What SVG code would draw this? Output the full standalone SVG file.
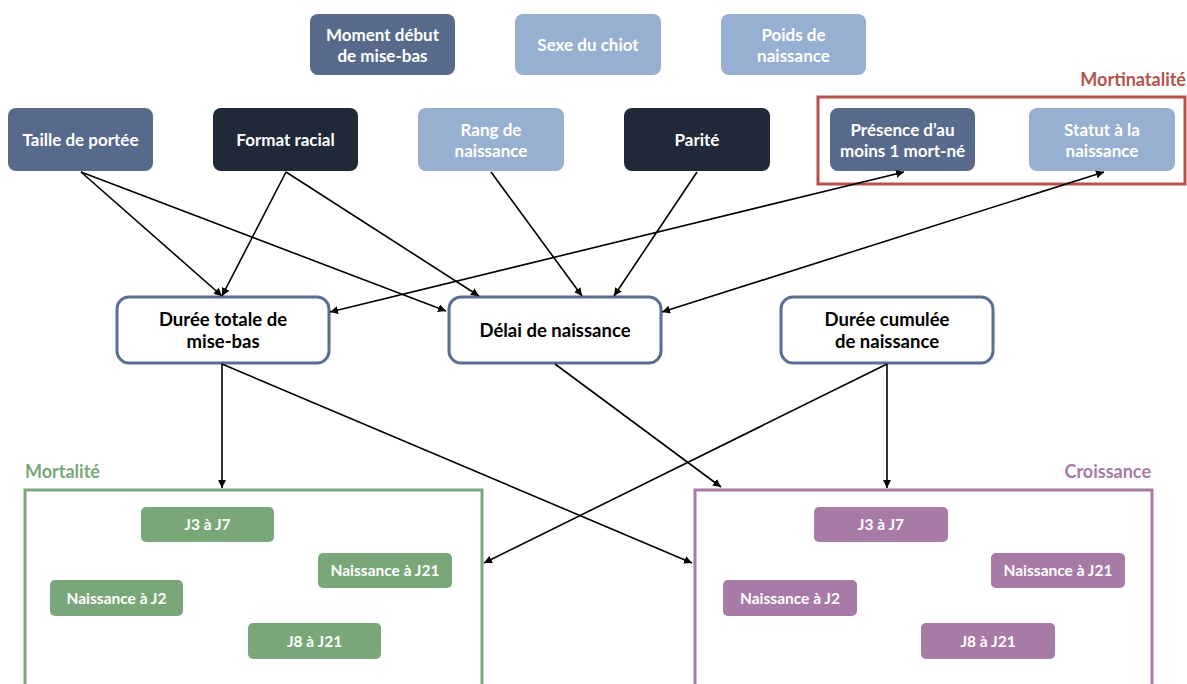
<svg xmlns="http://www.w3.org/2000/svg" width="1187" height="684" viewBox="0 0 1187 684">
<defs>
<style>
.t{font-family:Lato,"Open Sans","Liberation Sans",sans-serif;font-weight:bold;text-anchor:middle}
.w{fill:#ffffff;font-size:17px}
.k{fill:#000000;font-size:18.5px}
.s{fill:#ffffff;font-size:15.5px}
.dk{fill:#576a8b}
.dd{fill:#1f2937}
.lt{fill:#97afd1}
.mid{fill:#ffffff;stroke:#5b6d91;stroke-width:3}
.gr{fill:#7aa779}
.pu{fill:#a87aa6}
.c{stroke:#000;stroke-width:1.6;fill:none}
</style>
<marker id="ah" viewBox="0 0 10 10" refX="10" refY="5" markerWidth="8" markerHeight="8" markerUnits="userSpaceOnUse" orient="auto-start-reverse">
<path d="M0,0 L10,5 L0,10 z" fill="#000"/>
</marker>
</defs>
<rect width="1187" height="684" fill="#ffffff"/>

<!-- frames -->
<g id="mortinatalite">
<rect x="818" y="97" width="367" height="87" fill="none" stroke="#b4524c" stroke-width="3"/>
<text class="t" x="1186" y="86" style="text-anchor:end;font-size:18px;fill:#b4524c">Mortinatalité</text>
</g>
<g id="mortalite">
<rect x="25" y="490" width="457" height="210" fill="none" stroke="#7aa779" stroke-width="3"/>
<text class="t" x="25" y="478" style="text-anchor:start;font-size:18px;fill:#7aa779">Mortalité</text>
</g>
<g id="croissance">
<rect x="695" y="490" width="457" height="210" fill="none" stroke="#a87aa6" stroke-width="3"/>
<text class="t" x="1151" y="478" style="text-anchor:end;font-size:18px;fill:#a87aa6">Croissance</text>
</g>

<!-- top row -->
<g id="moment"><rect x="310" y="14" width="145" height="61" rx="8" class="dk"/><text class="t w" x="382.5" y="41">Moment début</text><text class="t w" x="382.5" y="62">de mise-bas</text></g>
<g id="sexe"><rect x="515" y="14" width="146" height="61" rx="8" class="lt"/><text class="t w" x="588" y="51">Sexe du chiot</text></g>
<g id="poids"><rect x="721" y="14" width="145" height="61" rx="8" class="lt"/><text class="t w" x="793.5" y="41">Poids de</text><text class="t w" x="793.5" y="62">naissance</text></g>

<!-- second row -->
<g id="taille"><rect x="8" y="108" width="145" height="63" rx="8" class="dk"/><text class="t w" x="80.5" y="146">Taille de portée</text></g>
<g id="format"><rect x="213" y="108" width="145" height="63" rx="8" class="dd"/><text class="t w" x="285.5" y="146">Format racial</text></g>
<g id="rang"><rect x="418" y="108" width="146" height="63" rx="8" class="lt"/><text class="t w" x="491" y="136">Rang de</text><text class="t w" x="491" y="157">naissance</text></g>
<g id="parite"><rect x="624" y="108" width="146" height="63" rx="8" class="dd"/><text class="t w" x="697" y="146">Parité</text></g>
<g id="presence"><rect x="830" y="108" width="145" height="63" rx="8" class="dk"/><text class="t w" x="902.5" y="136">Présence d’au</text><text class="t w" x="902.5" y="157">moins 1 mort-né</text></g>
<g id="statut"><rect x="1029" y="108" width="146" height="63" rx="8" class="lt"/><text class="t w" x="1102" y="136">Statut à la</text><text class="t w" x="1102" y="157">naissance</text></g>

<!-- middle row -->
<g id="duree-totale"><rect x="117" y="297" width="212" height="66" rx="12" class="mid"/><text class="t k" x="223" y="326">Durée totale de</text><text class="t k" x="223" y="348">mise-bas</text></g>
<g id="delai"><rect x="449" y="297" width="212" height="66" rx="12" class="mid"/><text class="t k" x="555" y="337">Délai de naissance</text></g>
<g id="duree-cumulee"><rect x="781" y="297" width="212" height="66" rx="12" class="mid"/><text class="t k" x="887" y="326">Durée cumulée</text><text class="t k" x="887" y="348">de naissance</text></g>

<!-- mortalité items -->
<g id="m-j3j7"><rect x="141" y="507" width="133" height="35" rx="5" class="gr"/><text class="t s" x="207.5" y="530">J3 à J7</text></g>
<g id="m-n21"><rect x="318" y="553" width="134" height="35" rx="5" class="gr"/><text class="t s" x="385" y="576">Naissance à J21</text></g>
<g id="m-n2"><rect x="50" y="580" width="133" height="36" rx="5" class="gr"/><text class="t s" x="116.5" y="604">Naissance à J2</text></g>
<g id="m-j8j21"><rect x="248" y="623" width="133" height="36" rx="5" class="gr"/><text class="t s" x="314.5" y="647">J8 à J21</text></g>

<!-- croissance items -->
<g id="c-j3j7"><rect x="814" y="507" width="134" height="35" rx="5" class="pu"/><text class="t s" x="881" y="530">J3 à J7</text></g>
<g id="c-n21"><rect x="991" y="553" width="134" height="35" rx="5" class="pu"/><text class="t s" x="1058" y="576">Naissance à J21</text></g>
<g id="c-n2"><rect x="723" y="580" width="134" height="36" rx="5" class="pu"/><text class="t s" x="790" y="604">Naissance à J2</text></g>
<g id="c-j8j21"><rect x="921" y="623" width="134" height="36" rx="5" class="pu"/><text class="t s" x="988" y="647">J8 à J21</text></g>

<!-- connectors -->
<g id="connectors">
<line class="c" x1="81" y1="172" x2="222" y2="296" marker-end="url(#ah)"/>
<line class="c" x1="81" y1="172" x2="446" y2="311" marker-end="url(#ah)"/>
<line class="c" x1="286" y1="172" x2="222" y2="296" marker-end="url(#ah)"/>
<line class="c" x1="286" y1="172" x2="479" y2="296" marker-end="url(#ah)"/>
<line class="c" x1="491" y1="172" x2="582" y2="296" marker-end="url(#ah)"/>
<line class="c" x1="697" y1="172" x2="614" y2="296" marker-end="url(#ah)"/>
<line class="c" x1="330" y1="312" x2="904" y2="172" marker-start="url(#ah)" marker-end="url(#ah)"/>
<line class="c" x1="662" y1="312" x2="1104" y2="172" marker-start="url(#ah)" marker-end="url(#ah)"/>
<line class="c" x1="222" y1="364" x2="222" y2="488" marker-end="url(#ah)"/>
<line class="c" x1="222" y1="364" x2="692" y2="563" marker-end="url(#ah)"/>
<line class="c" x1="555" y1="364" x2="721" y2="487" marker-end="url(#ah)"/>
<line class="c" x1="887" y1="364" x2="484" y2="563" marker-end="url(#ah)"/>
<line class="c" x1="887" y1="364" x2="887" y2="488" marker-end="url(#ah)"/>
</g>
</svg>
